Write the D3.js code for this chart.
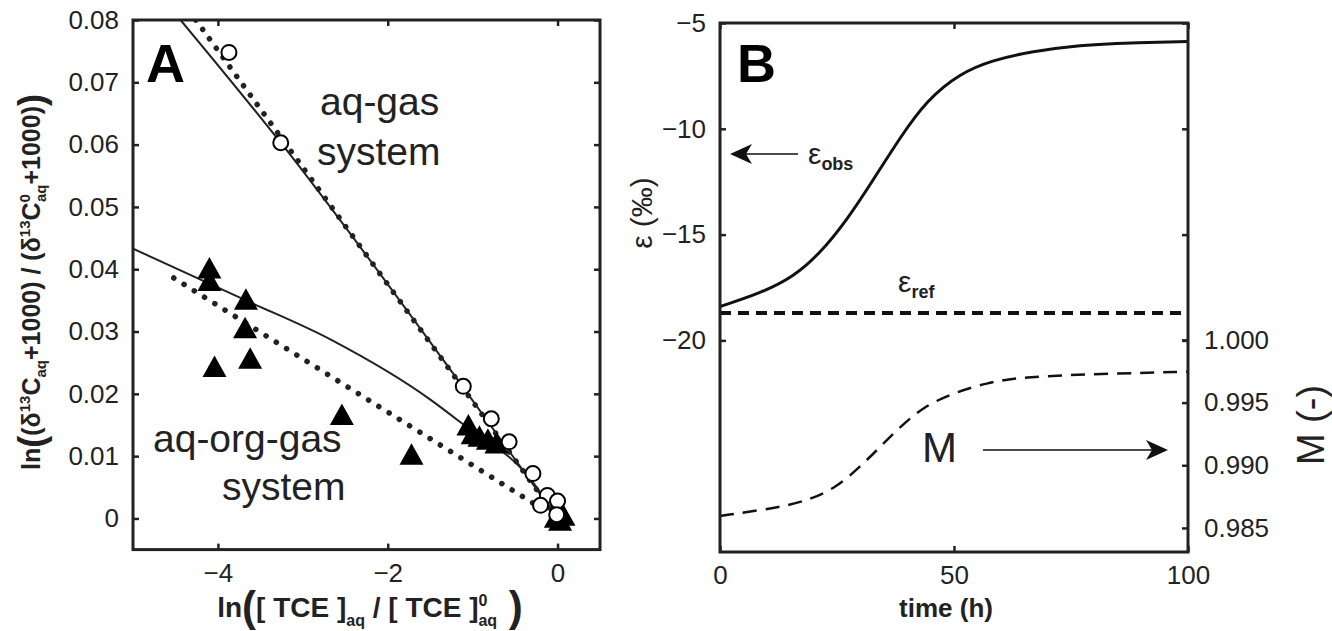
<!DOCTYPE html>
<html>
<head>
<meta charset="utf-8">
<script src="https://cdn.jsdelivr.net/npm/d3@7"></script>
<style>
  body { margin: 0; background: #fff; }
  svg { font-family: "Liberation Sans", Arial, sans-serif; }
  .tick text { font-size: 26px; fill: #222; }
</style>
</head>
<body>
<svg id="fig" width="1332" height="631"></svg>
<script>
// ---- panel A data ----
const circX = [-3.87, -3.26, -1.11, -0.78, -0.57, -0.29, -0.12, -0.20, 0.00, -0.01];
const circY = [0.0748, 0.0603, 0.0212, 0.0160, 0.0123, 0.0072, 0.0037, 0.0021, 0.0028, 0.0006];
const triX = [-4.10, -4.10, -3.67, -3.68, -3.62, -4.04, -2.54, -1.72, -1.05, -1.00, -0.92, -0.82, -0.72, 0.07, -0.02, 0.03];
const triY = [0.0402, 0.0382, 0.0352, 0.0306, 0.0257, 0.0244, 0.0167, 0.0103, 0.0150, 0.0136, 0.0132, 0.0127, 0.0121, 0.0005, 0.0002, -0.0003];
// fitted curves
const gasFitX = [-4.44, -3.26, -1.12, 0];
const gasFitY = [0.0800, 0.0603, 0.0212, 0];
const gasLinX = [-4.26, 0];
const gasLinY = [0.0800, 0];
const orgFitX = [-5.0, -3.67, -2.67, -1.49, -1.14, -0.30, 0];
const orgFitY = [0.0433, 0.0350, 0.0287, 0.0190, 0.0154, 0.0060, 0];
const orgLinX = [-4.52, 0];
const orgLinY = [0.0386, 0];
const xTicksA = [-4, -2, 0];
const yTicksA = [0, 0.01, 0.02, 0.03, 0.04, 0.05, 0.06, 0.07, 0.08];

// ---- panel B data ----
const obsT = [0, 8.5, 15.6, 21.4, 27.1, 32.7, 38.5, 44.2, 51.3, 58.3, 66.2, 76.9, 87.6, 100];
const obsEps = [-18.4, -17.78, -17.02, -15.88, -14.32, -12.43, -10.40, -8.64, -7.37, -6.75, -6.36, -6.04, -5.93, -5.88];
const refT = [0, 100];
const refEps = [-18.71, -18.71];
const mT = [0, 12.2, 19.2, 25, 29.9, 34.2, 38.5, 43.4, 49.8, 57, 64.1, 81.2, 100];
const mVal = [0.98596, 0.98660, 0.98723, 0.98827, 0.98987, 0.99146, 0.99306, 0.99465, 0.99577, 0.99657, 0.99705, 0.99729, 0.99747];
const xTicksB = [0, 50, 100];
const yTicksB = [-20, -15, -10, -5];
const mTicks = [0.985, 0.990, 0.995, 1.000];

const svg = d3.select('#fig');
const minus = s => s.replace('-', '\u2212');

function boxAxes(g, x, y, xt, yt, fmtY) {
  const [x0, x1] = x.range();
  const [y0, y1] = y.range();
  g.append('g').attr('transform', `translate(0,${y0})`)
    .call(d3.axisBottom(x).tickValues(xt).tickSize(-6).tickPadding(14).tickFormat(d => minus(String(d))));
  g.append('g').attr('transform', `translate(0,${y1})`)
    .call(d3.axisTop(x).tickValues(xt).tickSize(-6).tickFormat(''));
  g.append('g').attr('transform', `translate(${x0},0)`)
    .call(d3.axisLeft(y).tickValues(yt).tickSize(-6).tickPadding(14).tickFormat(fmtY));
  g.append('g').attr('transform', `translate(${x1},0)`)
    .call(d3.axisRight(y).tickValues(yt).tickSize(-6).tickFormat(''));
  g.selectAll('.domain').remove();
  g.selectAll('.tick line').attr('stroke', '#222').attr('stroke-width', 2.5);
  g.append('rect').attr('x', x0).attr('y', y1).attr('width', x1 - x0).attr('height', y0 - y1)
    .attr('fill', 'none').attr('stroke', '#222').attr('stroke-width', 3);
}

// ================= Panel A =================
const xA = d3.scaleLinear().domain([-5, 0.5]).range([133, 600]);
const yA = d3.scaleLinear().domain([-0.005, 0.08]).range([549.6, 20]);
const gA = svg.append('g');
svg.append('clipPath').attr('id', 'clipA').append('rect')
  .attr('x', 133).attr('y', 20).attr('width', 467).attr('height', 529.6);

const lineA = d3.line().x(d => xA(d[0])).y(d => yA(d[1])).curve(d3.curveMonotoneX);
const plotA = gA.append('g').attr('clip-path', 'url(#clipA)');
plotA.append('path').datum(d3.zip(gasFitX, gasFitY)).attr('d', lineA)
  .attr('fill', 'none').attr('stroke', '#222').attr('stroke-width', 2);
plotA.append('path').datum(d3.zip(orgFitX, orgFitY)).attr('d', lineA)
  .attr('fill', 'none').attr('stroke', '#222').attr('stroke-width', 2);
plotA.append('path').datum(d3.zip(gasLinX, gasLinY)).attr('d', lineA)
  .attr('fill', 'none').attr('stroke', '#222').attr('stroke-width', 5.5)
  .attr('stroke-linecap', 'round').attr('stroke-dasharray', '0.1 11.5');
plotA.append('path').datum(d3.zip(orgLinX, orgLinY)).attr('d', lineA)
  .attr('fill', 'none').attr('stroke', '#222').attr('stroke-width', 5.5)
  .attr('stroke-linecap', 'round').attr('stroke-dasharray', '0.1 12');

plotA.selectAll('path.tri').data(d3.zip(triX, triY)).enter().append('path')
  .attr('class', 'tri')
  .attr('transform', d => `translate(${xA(d[0])},${yA(d[1])})`)
  .attr('d', 'M0,-11 L12,10.5 L-12,10.5 Z').attr('fill', '#000');
plotA.selectAll('circle').data(d3.zip(circX, circY)).enter().append('circle')
  .attr('cx', d => xA(d[0])).attr('cy', d => yA(d[1])).attr('r', 7.5)
  .attr('fill', '#fff').attr('stroke', '#000').attr('stroke-width', 2);

boxAxes(gA, xA, yA, xTicksA, yTicksA, d => d === 0 ? '0' : d3.format('.2f')(d));

gA.append('text').attr('x', 146).attr('y', 82).attr('font-size', 54).attr('font-weight', 'bold').text('A');
gA.append('text').attr('x', 320).attr('y', 115).attr('font-size', 39).attr('fill', '#222').text('aq-gas');
gA.append('text').attr('x', 317).attr('y', 165).attr('font-size', 39).attr('fill', '#222').text('system');
gA.append('text').attr('x', 153).attr('y', 452).attr('font-size', 39).attr('fill', '#222').text('aq-org-gas');
gA.append('text').attr('x', 222).attr('y', 500).attr('font-size', 39).attr('fill', '#222').text('system');

// y label A
const yl = gA.append('text').attr('transform', 'translate(40,282) rotate(-90)')
  .attr('text-anchor', 'middle').attr('font-weight', 'bold').attr('font-size', 25).attr('fill', '#222');
yl.append('tspan').text('ln');
yl.append('tspan').attr('font-size', 36).attr('dy', 4).text('(');
yl.append('tspan').attr('dy', -4).text('(\u03b4');
yl.append('tspan').attr('font-size', 15).attr('dy', -10).text('13');
yl.append('tspan').attr('dy', 10).text('C');
yl.append('tspan').attr('font-size', 15).attr('dy', 6).text('aq');
yl.append('tspan').attr('dy', -6).text('+1000) / (\u03b4');
yl.append('tspan').attr('font-size', 15).attr('dy', -10).text('13');
yl.append('tspan').attr('dy', 10).text('C');
yl.append('tspan').attr('font-size', 15).attr('dy', -10).text('0');
yl.append('tspan').attr('font-size', 15).attr('dx', -8).attr('dy', 16).text('aq');
yl.append('tspan').attr('dy', -6).text('+1000)');
yl.append('tspan').attr('font-size', 36).attr('dy', 4).text(')');

// x label A
const xl = gA.append('text').attr('x', 370).attr('y', 617)
  .attr('text-anchor', 'middle').attr('font-weight', 'bold').attr('font-size', 28).attr('fill', '#222');
xl.append('tspan').text('ln');
xl.append('tspan').attr('font-size', 42).attr('dy', 4).text('(');
xl.append('tspan').attr('dy', -4).text('[ TCE ]');
xl.append('tspan').attr('font-size', 16).attr('dy', 9).text('aq');
xl.append('tspan').attr('dy', -9).text(' / [ TCE ]');
xl.append('tspan').attr('font-size', 16).attr('dy', -11).text('0');
xl.append('tspan').attr('font-size', 16).attr('dx', -9).attr('dy', 20).text('aq');
xl.append('tspan').attr('font-size', 42).attr('dy', -5).text(' )');

// ================= Panel B =================
const xB = d3.scaleLinear().domain([0, 100]).range([720, 1188]);
const yB = d3.scaleLinear().domain([-30, -5]).range([552, 23]);
const mB = d3.scaleLinear().domain([0.98308, 1.02529]).range([552, 23]);
const gB = svg.append('g');

gB.append('path').datum(d3.zip(obsT, obsEps))
  .attr('d', d3.line().x(d => xB(d[0])).y(d => yB(d[1])).curve(d3.curveBasis))
  .attr('fill', 'none').attr('stroke', '#111').attr('stroke-width', 3);
gB.append('path').datum(d3.zip(refT, refEps))
  .attr('d', d3.line().x(d => xB(d[0])).y(d => yB(d[1])))
  .attr('fill', 'none').attr('stroke', '#111').attr('stroke-width', 4)
  .attr('stroke-dasharray', '11 7');
gB.append('path').datum(d3.zip(mT, mVal))
  .attr('d', d3.line().x(d => xB(d[0])).y(d => mB(d[1])).curve(d3.curveBasis))
  .attr('fill', 'none').attr('stroke', '#111').attr('stroke-width', 2.5)
  .attr('stroke-dasharray', '14 9');

boxAxes(gB, xB, yB, xTicksB, yTicksB, d => minus(String(d)));
gB.append('g').attr('transform', 'translate(1188,0)')
  .call(d3.axisRight(mB).tickValues(mTicks).tickSize(-6).tickPadding(16).tickFormat(d3.format('.3f')))
  .call(g => g.select('.domain').remove())
  .call(g => g.selectAll('.tick line').attr('stroke', '#222').attr('stroke-width', 2.5));

gB.append('text').attr('x', 737).attr('y', 82).attr('font-size', 54).attr('font-weight', 'bold').text('B');

// arrows
function arrow(x1, x2, y) {
  const dir = Math.sign(x2 - x1);
  gB.append('line').attr('x1', x1).attr('x2', x2 - dir * 14).attr('y1', y).attr('y2', y)
    .attr('stroke', '#111').attr('stroke-width', 1.5);
  gB.append('path')
    .attr('d', `M${x2},${y} L${x2 - dir * 22},${y - 10} L${x2 - dir * 16},${y} L${x2 - dir * 22},${y + 10} Z`)
    .attr('fill', '#111');
}
arrow(798, 730, 154);
arrow(983, 1168, 450);

const eo = gB.append('text').attr('x', 808).attr('y', 164).attr('font-size', 30).attr('fill', '#222');
eo.append('tspan').text('\u03b5');
eo.append('tspan').attr('font-size', 18).attr('font-weight', 'bold').attr('dy', 6).text('obs');
const er = gB.append('text').attr('x', 898).attr('y', 292).attr('font-size', 30).attr('fill', '#222');
er.append('tspan').text('\u03b5');
er.append('tspan').attr('font-size', 18).attr('font-weight', 'bold').attr('dy', 6).text('ref');
gB.append('text').attr('x', 922).attr('y', 462).attr('font-size', 42).attr('fill', '#222').text('M');

gB.append('text').attr('transform', 'translate(652,213) rotate(-90)').attr('text-anchor', 'middle')
  .attr('font-size', 30).attr('fill', '#222').text('\u03b5 (\u2030)');
gB.append('text').attr('x', 946).attr('y', 617).attr('text-anchor', 'middle')
  .attr('font-size', 26).attr('font-weight', 'bold').attr('fill', '#222').text('time (h)');
gB.append('text').attr('transform', 'translate(1324,425) rotate(-90)').attr('text-anchor', 'middle')
  .attr('font-size', 38).attr('fill', '#222').text('M (-)');
</script>
</body>
</html>
